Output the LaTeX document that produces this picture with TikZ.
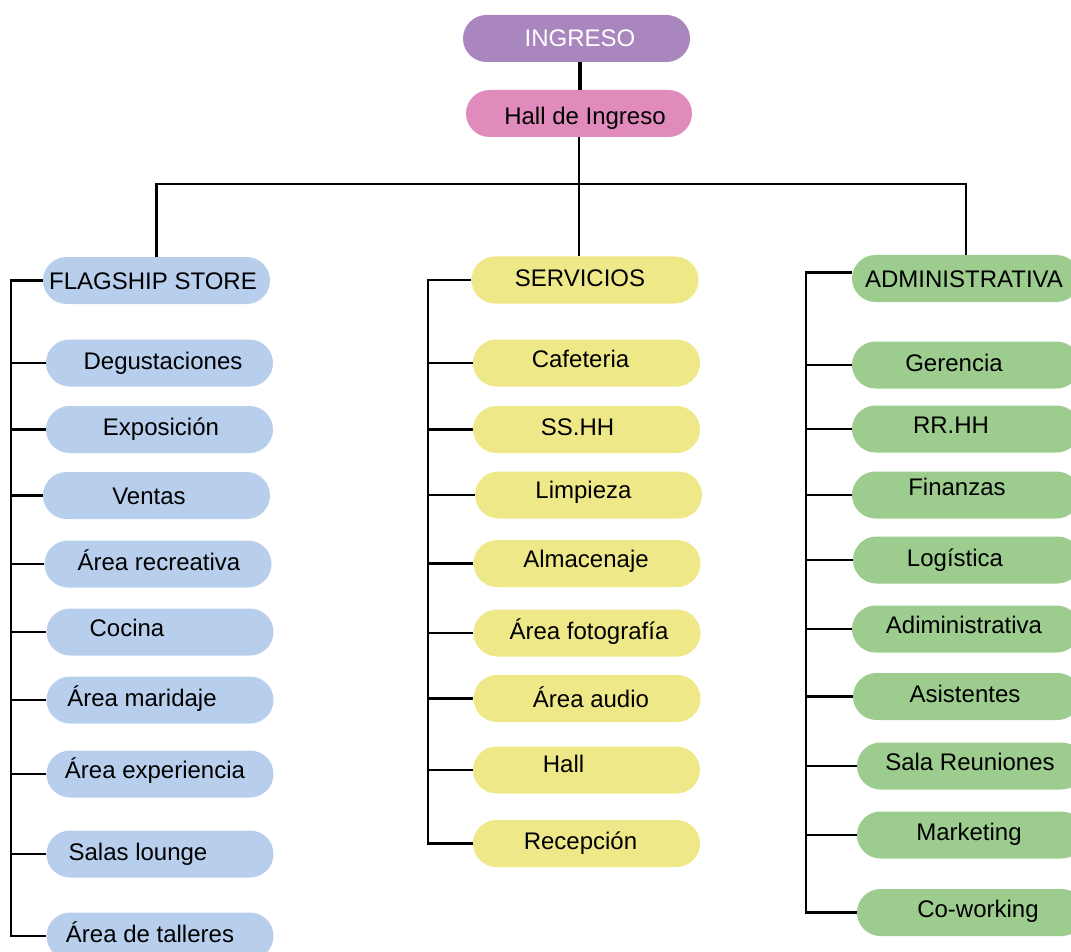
\documentclass[tikz,border=0pt]{standalone}
\usepackage{fontspec}
\setmainfont{Liberation Sans}
\definecolor{cpurple}{RGB}{170,134,190}
\definecolor{cpink}{RGB}{224,139,187}
\definecolor{cblue}{RGB}{183,206,236}
\definecolor{cyellow}{RGB}{238,232,136}
\definecolor{cgreen}{RGB}{157,204,143}
\newcommand\tx[3]{\hspace*{#1pt}\hspace*{#1pt}\raisebox{-#2pt}{#3}}
\tikzset{
  pill/.style={rectangle, rounded corners=23.5pt, minimum width=227pt, minimum height=47pt,
    inner sep=0pt, text height=17pt, text depth=0pt,
    font=\fontsize{24}{28}\selectfont},
  fsbox/.style={pill, fill=cblue},
  svbox/.style={pill, fill=cyellow},
  adbox/.style={pill, fill=cgreen, minimum width=228pt},
  conn/.style={line width=2.2pt, black},
}
\begin{document}
\begin{tikzpicture}[x=1pt,y=-1pt]
\useasboundingbox (0,0) rectangle (1071,952);
\clip (0,0) rectangle (1071,952);
% top
\node[pill, fill=cpurple, text=white] (ING) at (576.5,38.5) {\tx{3.5}{0}{INGRESO}};
\node[pill, fill=cpink, minimum width=226pt] (HALL) at (579,113.5) {\tx{6}{2.5}{Hall de Ingreso}};
% flagship
\node[fsbox] (FS) at (156.5,280.5) {\tx{-3.5}{0}{FLAGSHIP STORE}};
\node[fsbox] (f1) at (159.5,363) {\tx{3.5}{-2.5}{Degustaciones}};
\node[fsbox] (f2) at (159.5,429.5) {\tx{1.5}{-3}{Exposición}};
\node[fsbox] (f3) at (156.5,495.5) {\tx{-7.5}{0}{Ventas}};
\node[fsbox] (f4) at (158,564) {\tx{1}{-2}{Área recreativa}};
\node[fsbox] (f5) at (160,632) {\tx{-33}{-4}{Cocina}};
\node[fsbox] (f6) at (160,700) {\tx{-18}{-2}{Área maridaje}};
\node[fsbox] (f7) at (160,774) {\tx{-5}{-4}{Área experiencia}};
\node[fsbox] (f8) at (160,854) {\tx{-22}{-2}{Salas lounge}};
\node[fsbox] (f9) at (160,936) {\tx{-10}{-2}{Área de talleres}};
% servicios
\node[svbox] (SV) at (585,280) {\tx{-5}{-2.5}{SERVICIOS}};
\node[svbox] (s1) at (586.5,363) {\tx{-6}{-4}{Cafeteria}};
\node[svbox] (s2) at (586.5,429.5) {\tx{-9}{-3}{SS.HH}};
\node[svbox] (s3) at (588.5,495) {\tx{-5}{-5}{Limpieza}};
\node[svbox] (s4) at (587,563.5) {\tx{-1}{-5}{Almacenaje}};
\node[svbox] (s5) at (587,633) {\tx{2}{-2}{Área fotografía}};
\node[svbox] (s6) at (587,698.5) {\tx{4}{0}{Área audio}};
\node[svbox] (s7) at (586.5,770) {\tx{-23}{-6}{Hall}};
\node[svbox] (s8) at (586.5,843.5) {\tx{-6}{-2.5}{Recepción}};
% administrativa
\node[adbox] (AD) at (966,278.5) {\tx{-2}{1}{ADMINISTRATIVA}};
\node[adbox] (a1) at (966,365) {\tx{-12}{-2}{Gerencia}};
\node[adbox] (a2) at (966,429) {\tx{-15}{-4}{RR.HH}};
\node[adbox] (a3) at (966,495) {\tx{-9}{-8}{Finanzas}};
\node[adbox] (a4) at (967,560) {\tx{-12}{-2}{Logística}};
\node[adbox] (a5) at (966,629) {\tx{-2}{-4}{Adiministrativa}};
\node[adbox] (a6) at (967,696.5) {\tx{-2}{-2.5}{Asistentes}};
\node[adbox] (a7) at (971,766) {\tx{-1}{-4}{Sala Reuniones}};
\node[adbox] (a8) at (971,835) {\tx{-2}{-3}{Marketing}};
\node[adbox] (a9) at (971,912.5) {\tx{7}{-3.5}{Co-working}};
% connectors
\draw[line width=3.2pt] (HALL.north -| 580,0) -- (ING.south -| 580,0);
\coordinate (bus) at (579,184);
\draw[conn] (HALL.south -| bus) -- (bus);
\draw[conn] (FS.north) |- (bus) -| (AD.north);
\draw[conn] (bus) -- (SV.north -| bus);
\coordinate (fsL) at (11,280.5);
\coordinate (svL) at (428,280);
\coordinate (adL) at (806,272.5);
\draw[conn] (FS.west) -- (fsL) |- (f9.west);
\foreach \n in {f1,f2,f3,f4,f5,f6,f7,f8} \draw[conn] (\n.west) -- (\n.west -| fsL);
\draw[conn] (SV.west) -- (svL) |- (s8.west);
\foreach \n in {s1,s2,s3,s4,s5,s6,s7} \draw[conn] (\n.west) -- (\n.west -| svL);
\draw[conn] (AD.west |- adL) -- (adL) |- (a9.west);
\foreach \n in {a1,a2,a3,a4,a5,a6,a7,a8} \draw[conn] (\n.west) -- (\n.west -| adL);
\end{tikzpicture}
\end{document}
